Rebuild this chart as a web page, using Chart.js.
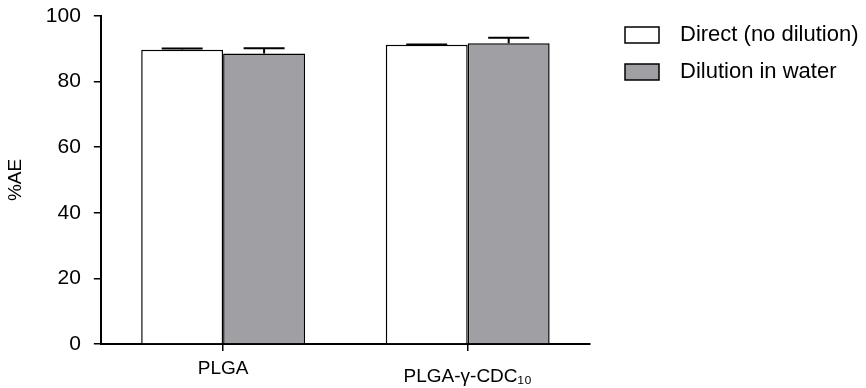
<!DOCTYPE html>
<html>
<head>
<meta charset="utf-8">
<script src="https://cdn.jsdelivr.net/npm/chart.js@4.4.1/dist/chart.umd.min.js"></script>
<style>
  html, body { margin: 0; padding: 0; background: #fff; }
  #wrap { width: 866px; height: 388px; }
</style>
</head>
<body>
<div id="wrap"><canvas id="grafico"></canvas></div>
<script>
const categorias = ['PLGA', 'PLGA-γ-CDC₁₀'];
const directo = [89.7, 91.2];
const directoErr = [0.4, 0.1];
const dilucion = [88.6, 91.7];
const dilucionErr = [1.6, 1.7];
const ticksY = [0, 20, 40, 60, 80, 100];

const fuente = 'Arial, "Liberation Sans", sans-serif';

// barras de error (solo hacia arriba)
const errores = {
  id: 'errores',
  afterDatasetsDraw(chart) {
    const ctx = chart.ctx;
    const y = chart.scales.y;
    ctx.save();
    ctx.strokeStyle = '#000';
    ctx.lineWidth = 2;
    chart.data.datasets.forEach((ds, i) => {
      const meta = chart.getDatasetMeta(i);
      meta.data.forEach((bar, j) => {
        const top = y.getPixelForValue(ds.data[j] + ds.errores[j]);
        const half = bar.width / 4;
        ctx.beginPath();
        ctx.moveTo(bar.x, bar.y);
        ctx.lineTo(bar.x, top);
        ctx.moveTo(bar.x - half, top);
        ctx.lineTo(bar.x + half, top);
        ctx.stroke();
      });
    });
    ctx.restore();
  }
};

// leyenda a la derecha
const leyenda = {
  id: 'leyenda',
  afterDraw(chart) {
    const ctx = chart.ctx;
    ctx.save();
    ctx.font = '22px ' + fuente;
    ctx.textBaseline = 'middle';
    chart.data.datasets.forEach((ds, i) => {
      const cy = 35 + i * 37;
      ctx.fillStyle = ds.backgroundColor;
      ctx.fillRect(625, cy - 8, 34, 16);
      ctx.strokeStyle = '#000';
      ctx.lineWidth = 1.5;
      ctx.strokeRect(625, cy - 8, 34, 16);
      ctx.fillStyle = '#000';
      ctx.fillText(ds.label, 680, cy);
    });
    ctx.restore();
  }
};

new Chart(document.getElementById('grafico'), {
  type: 'bar',
  data: {
    labels: categorias,
    datasets: [
      {
        label: 'Direct (no dilution)',
        data: directo,
        errores: directoErr,
        backgroundColor: '#ffffff',
        borderColor: '#000',
        borderWidth: 1.5
      },
      {
        label: 'Dilution in water',
        data: dilucion,
        errores: dilucionErr,
        backgroundColor: '#a09fa4',
        borderColor: '#000',
        borderWidth: 1.5
      }
    ]
  },
  options: {
    responsive: true,
    maintainAspectRatio: false,
    animation: false,
    events: [],
    layout: { padding: { top: 0, right: 276, bottom: -15, left: 0 } },
    plugins: {
      legend: { display: false },
      tooltip: { enabled: false }
    },
    datasets: {
      bar: { categoryPercentage: 0.67, barPercentage: 1 }
    },
    scales: {
      x: {
        grid: { display: true, drawOnChartArea: false, offset: false, tickLength: 7, color: '#000', lineWidth: 1.5 },
        border: { display: true, color: '#000', width: 2 },
        ticks: {
          color: '#000',
          padding: 15,
          maxRotation: 0,
          font: ctx => ({ family: fuente, size: 19, lineHeight: ctx.index === 1 ? '22px' : '6px' })
        }
      },
      y: {
        min: 0,
        max: 100,
        afterBuildTicks: eje => { eje.ticks = ticksY.map(v => ({ value: v })); },
        grid: { display: true, drawOnChartArea: false, tickLength: 7, color: '#000', lineWidth: 1.5 },
        border: { display: true, color: '#000', width: 2 },
        ticks: { color: '#000', padding: 13, font: { family: fuente, size: 21, lineHeight: '6px' } },
        title: {
          display: true,
          text: '%AE',
          color: '#000',
          font: { family: fuente, size: 19 },
          padding: { top: 4, bottom: 6 }
        }
      }
    }
  },
  plugins: [errores, leyenda]
});
</script>
</body>
</html>
